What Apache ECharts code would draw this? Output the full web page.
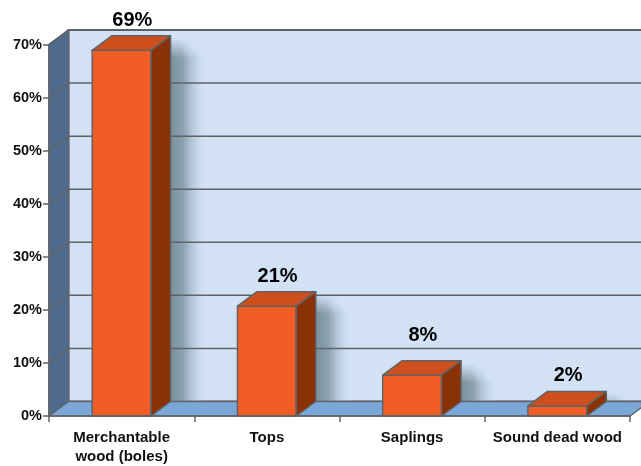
<!DOCTYPE html>
<html>
<head>
<meta charset="utf-8">
<style>html,body{margin:0;padding:0;background:#fff}#c{width:641px;height:466px}</style>
<script src="https://cdn.jsdelivr.net/npm/echarts@6/dist/echarts.min.js"></script>
</head>
<body>
<div id="c"></div>
<script>
const categories = ['Merchantable\nwood (boles)', 'Tops', 'Saplings', 'Sound dead wood'];
const values = [68.9, 20.7, 7.7, 1.9];
const yTicks = [10, 20, 30, 40, 50, 60, 70];

const DX = 19.5, DY = 14.5;
const EDGE = '#5f6368';
const FONT = '"Liberation Sans", Arial, sans-serif';
const noAnim = { silent: true, animation: false };
const labelGap = [15, 15.5, 25.5, 15.5];
const SHADOW_FILL = { type: 'linear', x: 0, y: 0, x2: 1, y2: 0, colorStops: [
  { offset: 0, color: 'rgba(118,140,153,0.95)' },
  { offset: 0.35, color: 'rgba(128,150,165,0.85)' },
  { offset: 0.7, color: 'rgba(170,190,208,0.45)' },
  { offset: 1, color: 'rgba(210,225,244,0)' }
] };

function poly(points, fill, z2) {
  return { type: 'polygon', z2: z2 || 0, shape: { points },
    style: { fill, stroke: EDGE, lineWidth: 1.5, lineJoin: 'round' } };
}

const chart = echarts.init(document.getElementById('c'), null, { renderer: 'canvas' });
chart.setOption({
  backgroundColor: '#ffffff',
  animation: false,
  grid: { left: 49, top: 44.5, width: 581, height: 372.5, containLabel: false },
  xAxis: {
    type: 'category', data: categories, boundaryGap: true, z: 8,
    axisLine: { show: true, lineStyle: { color: EDGE, width: 1.5 } },
    axisTick: { show: true, length: 6, alignWithLabel: false, lineStyle: { color: EDGE, width: 1.5 } },
    axisLabel: { interval: 0, margin: 12, color: '#111', fontFamily: FONT, fontWeight: 'bold', fontSize: 15, lineHeight: 19, align: 'center' }
  },
  yAxis: {
    type: 'value', min: 0, max: 70, interval: 10, z: 8,
    splitLine: { show: false },
    axisLine: { show: true, lineStyle: { color: EDGE, width: 1.5 } },
    axisTick: { show: true, length: 6, lineStyle: { color: EDGE, width: 1.5 } },
    axisLabel: { formatter: '{value}%', margin: 7, color: '#111', fontFamily: FONT, fontWeight: 'bold', fontSize: 14.5, padding: [4, 0, 0, 0] }
  },
  series: [
    { // back and left walls
      type: 'custom', z: 1, ...noAnim, data: [[0, 0]],
      renderItem(params) {
        const g = params.coordSys;
        const l = g.x, t = g.y, b = g.y + g.height;
        return { type: 'group', children: [
          { type: 'rect', shape: { x: l + DX, y: t - DY, width: g.width + 20, height: g.height },
            style: { fill: '#d2e1f4', stroke: EDGE, lineWidth: 2 } },
          poly([[l, t], [l + DX, t - DY], [l + DX, b - DY], [l, b]], '#4e6b8e')
        ] };
      }
    },
    { // soft shadow that every bar throws on the back wall, faded at its top
      type: 'custom', z: 2, ...noAnim,
      data: values.map((v, i) => [i, v]),
      renderItem(params, api) {
        const top = api.coord([api.value(0), api.value(1)]);
        const base = api.coord([api.value(0), 0]);
        const w = api.size([1, 0])[0] * 0.405;
        const rx = top[0] + w / 2 + DX;
        const yStart = Math.round(top[1] - DY + 2);
        const yEnd = Math.round(base[1] - DY);
        const fade = 20, children = [];
        for (let y = yStart; y < yEnd; y += 2) {
          const k = Math.min(1, (y - yStart + 1) / fade);
          const len = Math.min(yEnd - y, 2);
          children.push({ type: 'rect', shape: { x: rx, y, width: 22 + 14 * k, height: len },
            style: { fill: SHADOW_FILL, opacity: k } });
        }
        return { type: 'group', children };
      }
    },
    { // grid lines on the walls
      type: 'custom', z: 3, ...noAnim,
      data: yTicks.map(v => [0, v]),
      renderItem(params, api) {
        const g = params.coordSys;
        const y = api.coord([0, api.value(1)])[1];
        return { type: 'polyline',
          shape: { points: [[g.x, y], [g.x + DX, y - DY], [g.x + g.width + 20, y - DY]] },
          style: { fill: 'none', stroke: EDGE, lineWidth: 1.5 } };
      }
    },
    { // floor
      type: 'custom', z: 4, ...noAnim, data: [[0, 0]],
      renderItem(params) {
        const g = params.coordSys;
        const l = g.x, r = g.x + g.width, b = g.y + g.height;
        return poly([[l, b], [r, b], [r + DX, b - DY], [l + DX, b - DY]], '#7ba7d8');
      }
    },
    { // 3D bars with their value labels
      type: 'custom', z: 5, ...noAnim,
      data: values.map((v, i) => [i, v]),
      renderItem(params, api) {
        const v = api.value(1);
        const top = api.coord([api.value(0), v]);
        const base = api.coord([api.value(0), 0]);
        const w = api.size([1, 0])[0] * 0.405;
        const x0 = top[0] - w / 2, x1 = top[0] + w / 2, yt = top[1], yb = base[1];
        return { type: 'group', children: [
          poly([[x0, yt], [x1, yt], [x1, yb], [x0, yb]], '#f15d25'),
          poly([[x0, yt], [x0 + DX, yt - DY], [x1 + DX, yt - DY], [x1, yt]], '#cd501c'),
          poly([[x1, yt], [x1 + DX, yt - DY], [x1 + DX, yb - DY], [x1, yb]], '#8a3205'),
          { type: 'text', x: top[0] + DX / 2 + 1, y: yt - DY - labelGap[params.dataIndex],
            style: { text: Math.round(v) + '%', fill: '#000', align: 'center', verticalAlign: 'middle',
              fontFamily: FONT, fontWeight: 'bold', fontSize: 20 } }
        ] };
      }
    }
  ]
});
</script>
</body>
</html>
